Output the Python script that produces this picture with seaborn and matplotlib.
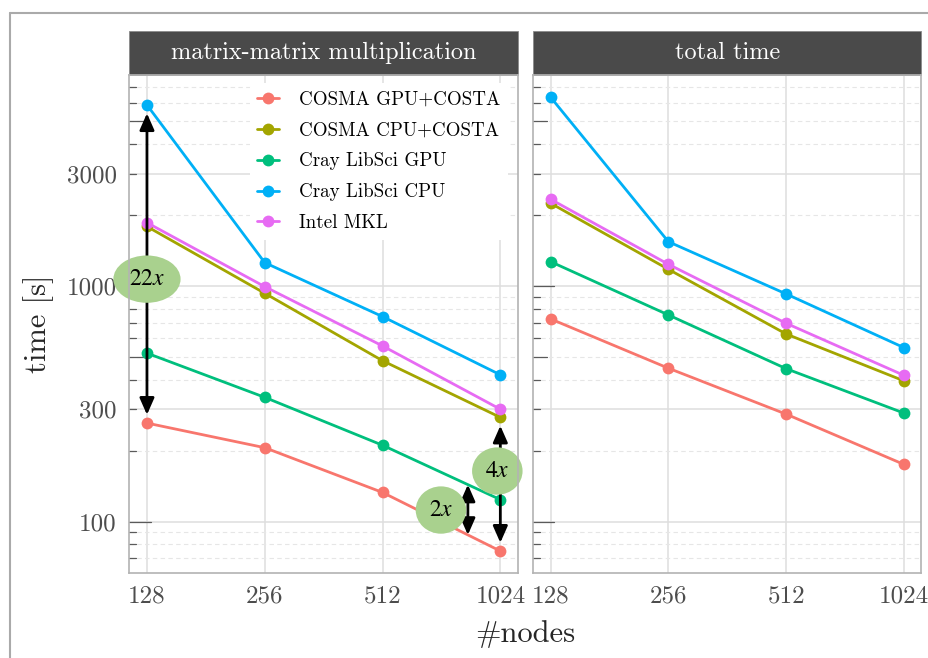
import matplotlib
matplotlib.use('Agg')
import matplotlib.pyplot as plt
import matplotlib.transforms as mtransforms
from matplotlib.lines import Line2D
from matplotlib.patches import Rectangle
import numpy as np
import pandas as pd
import seaborn as sns

# Data
nodes = [128, 256, 512, 1024]
x_labels = ['128', '256', '512', '1024']
libraries = ['COSMA GPU+COSTA', 'COSMA CPU+COSTA', 'Cray LibSci GPU',
             'Cray LibSci CPU', 'Intel MKL']
colors = ['#F8766D', '#A3A500', '#00BF7D', '#00B0F6', '#E76BF3']
panels = ['matrix-matrix multiplication', 'total time']

# matrix-matrix multiplication time [s]
mm_cosma_gpu = [262, 206, 133, 75]
mm_cosma_cpu = [1790, 932, 482, 277]
mm_cray_gpu = [519, 337, 211, 124]
mm_cray_cpu = [5870, 1257, 742, 420]
mm_mkl = [1858, 994, 557, 300]

# total time [s]
tot_cosma_gpu = [725, 448, 286, 175]
tot_cosma_cpu = [2246, 1178, 626, 396]
tot_cray_gpu = [1269, 754, 446, 289]
tot_cray_cpu = [6330, 1543, 926, 548]
tot_mkl = [2336, 1237, 695, 418]

y_major = [100, 300, 1000, 3000]
y_major_labels = ['100', '300', '1000', '3000']
y_limits = (60.7, 7870)

# speedup call-outs: label, nodes of arrow, upper series, lower series, label position
speedup_labels = ['$22x$', '$4x$', '$2x$']
speedup_nodes = [128, 1024, 846]
speedup_upper = [mm_cray_cpu, mm_cosma_cpu, mm_cray_gpu]
speedup_lower = [mm_cosma_gpu, mm_cosma_gpu, mm_cosma_gpu]
speedup_label_pos = [(128, 1070), (1006, 164), (722, 112)]
speedup_shrink = [6, 6, 0]

# Build long dataframe
series = {
    panels[0]: [mm_cosma_gpu, mm_cosma_cpu, mm_cray_gpu, mm_cray_cpu, mm_mkl],
    panels[1]: [tot_cosma_gpu, tot_cosma_cpu, tot_cray_gpu, tot_cray_cpu, tot_mkl],
}
rows = []
for panel, vals in series.items():
    for lib, v in zip(libraries, vals):
        for n, t in zip(nodes, v):
            rows.append({'panel': panel, 'library': lib, 'nodes': n, 'time': t})
df = pd.DataFrame(rows)

sns.set_style('white')
plt.rcParams['font.family'] = ['cmr10', 'DejaVu Serif']
plt.rcParams['axes.unicode_minus'] = False
plt.rcParams['mathtext.fontset'] = 'stix'

W, H = 929, 658
fig = plt.figure(figsize=(W / 100, H / 100), dpi=100)
panel_top, panel_bottom = 75, 572.7
panel_x = [(129.3, 518), (533, 921.5)]
axes = []
for x0, x1 in panel_x:
    ax = fig.add_axes([x0 / W, 1 - panel_bottom / H, (x1 - x0) / W,
                       (panel_bottom - panel_top) / H])
    axes.append(ax)

def interp_log(vals, x):
    return float(np.exp(np.interp(np.log(x), np.log(nodes), np.log(vals))))

for i, (ax, panel) in enumerate(zip(axes, panels)):
    sub = df[df['panel'] == panel]
    sns.lineplot(data=sub, x='nodes', y='time', hue='library', hue_order=libraries,
                 palette=colors, marker='o', markersize=8.5, markeredgewidth=0,
                 linewidth=2.0, legend=False, ax=ax, zorder=3)
    ax.set_xscale('log', base=2)
    ax.set_yscale('log')
    ax.set_xlim(128 * 2 ** -0.15, 1024 * 2 ** 0.15)
    ax.set_ylim(*y_limits)
    ax.set_xticks(nodes)
    ax.set_xticklabels(x_labels)
    ax.xaxis.set_minor_locator(matplotlib.ticker.NullLocator())
    ax.set_yticks(y_major)
    minor = [m * k for k in [10, 100, 1000] for m in [2, 4, 5, 6, 7, 8, 9]
             if y_limits[0] <= m * k <= y_limits[1]]
    ax.set_yticks(minor, minor=True)
    if i == 0:
        ax.set_yticklabels(y_major_labels)
    else:
        ax.set_yticklabels([])
        ax.tick_params(axis='y', which='major', length=0)
    ax.tick_params(axis='y', which='minor', length=0)
    ax.tick_params(axis='both', which='major', labelsize=18, colors='#4d4d4d',
                   width=1, length=6, pad=3)
    ax.tick_params(axis='both', which='major', color='#8a8a8a')
    ax.set_xlabel('')
    ax.set_ylabel('')
    ax.grid(True, which='major', color='#dedede', lw=1.1, zorder=0)
    ax.grid(True, which='minor', axis='y', color='#e6e6e6', lw=0.8,
            linestyle=(0, (4, 3)), zorder=0)
    ax.set_axisbelow(True)
    for s in ax.spines.values():
        s.set_color('#b3b3b3')
        s.set_linewidth(1.2)
        s.set_zorder(10)

    # log ticks inside the panel
    width_px = panel_x[i][1] - panel_x[i][0]
    trans = mtransforms.blended_transform_factory(ax.transAxes, ax.transData)
    for k in [10, 100, 1000]:
        for m in range(1, 10):
            v = m * k
            if not (y_limits[0] <= v <= y_limits[1]):
                continue
            L = 21.5 if m == 1 else (14.5 if m == 5 else 7)
            ax.plot([0, L / width_px], [v, v], transform=trans, color='#5a5a5a',
                    lw=0.9, clip_on=False, zorder=2)

    # facet strip
    strip_h = 44.4 / (panel_bottom - panel_top)
    ax.add_patch(Rectangle((0, 1), 1, strip_h, transform=ax.transAxes,
                           facecolor='#4a4a4a', edgecolor='#8a8a8a', lw=0.6,
                           clip_on=False))
    ax.text(0.5, 1 + strip_h / 2, panel, transform=ax.transAxes, ha='center',
            va='center', color='white', fontsize=17.5)

ax = axes[0]
# speedup arrows and labels
for lab, xn, up, lo, pos, sh in zip(speedup_labels, speedup_nodes, speedup_upper,
                                    speedup_lower, speedup_label_pos, speedup_shrink):
    y_up = interp_log(up, xn)
    y_lo = interp_log(lo, xn)
    ax.annotate('', xy=(xn, y_lo), xytext=(xn, y_up),
                arrowprops=dict(arrowstyle='<|-|>,head_length=0.5,head_width=0.22',
                                color='black', lw=2.0, shrinkA=sh, shrinkB=sh,
                                mutation_scale=20),
                zorder=5)
    ax.text(pos[0], pos[1], lab, ha='center', va='center', fontsize=17,
            color='black', zorder=6,
            bbox=dict(boxstyle='ellipse,pad=0.24', facecolor='#a9d18e',
                      edgecolor='none'))

# legend
handles = [Line2D([], [], color=c, marker='o', lw=2.0, markersize=8.5,
                  markeredgewidth=0) for c in colors]
leg = ax.legend(handles, libraries, loc='upper left', bbox_to_anchor=(0.31, 0.984),
                frameon=True, facecolor='white', edgecolor='none', framealpha=1,
                fontsize=13.7, handlelength=1.15, handletextpad=1.05,
                labelspacing=0.68, borderpad=0.4, borderaxespad=0)
leg.set_zorder(2.6)
for t in leg.get_texts():
    t.set_color('black')

# axis titles
fig.text(39 / W, 1 - 324 / H, 'time [s]', rotation=90, ha='center', va='center',
         fontsize=22)
fig.text(525 / W, 1 - 634 / H, '#nodes', ha='center', va='center', fontsize=22)

# outer frame of the image
fig.add_artist(Line2D([10.5 / W, 1], [1 - 12.5 / H, 1 - 12.5 / H],
                      transform=fig.transFigure, color='#aaaaaa', lw=1.5))
fig.add_artist(Line2D([10.5 / W, 10.5 / W], [0, 1 - 12.5 / H],
                      transform=fig.transFigure, color='#aaaaaa', lw=1.5))

fig.savefig('out.png', dpi=100)
